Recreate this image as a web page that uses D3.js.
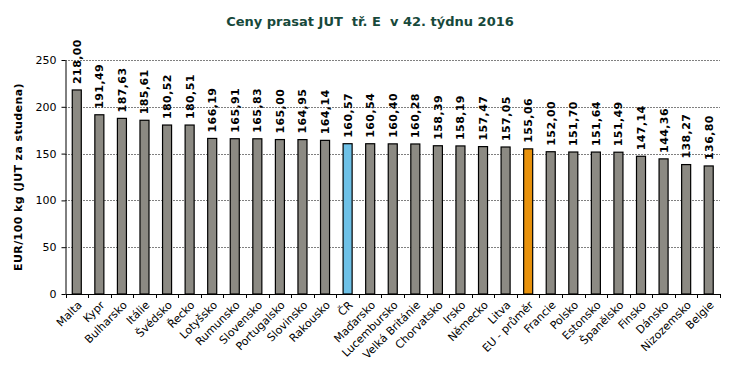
<!DOCTYPE html>
<html>
<head>
<meta charset="utf-8">
<script src="https://cdn.jsdelivr.net/npm/d3@7"></script>
<style>
  body { margin: 0; background: #fff; }
  text { font-family: "DejaVu Sans", Verdana, sans-serif; }
</style>
</head>
<body>
<div id="chart"></div>
<script>
var w = 734;
var h = 386;

var countries = ["Malta", "Kypr", "Bulharsko", "Itálie", "Švédsko", "Řecko", "Lotyšsko", "Rumunsko",
    "Slovensko", "Portugalsko", "Slovinsko", "Rakousko", "ČR", "Maďarsko", "Lucembursko",
    "Velká Británie", "Chorvatsko", "Irsko", "Německo", "Litva", "EU - průměr", "Francie",
    "Polsko", "Estonsko", "Španělsko", "Finsko", "Dánsko", "Nizozemsko", "Belgie"];
var prices = [218.00, 191.49, 187.63, 185.61, 180.52, 180.51, 166.19, 165.91,
    165.83, 165.00, 164.95, 164.14, 160.57, 160.54, 160.40,
    160.28, 158.39, 158.19, 157.47, 157.05, 155.06, 152.00,
    151.70, 151.64, 151.49, 147.14, 144.36, 138.27, 136.80];
var yTicks = [0, 50, 100, 150, 200, 250];

var plotLeft = 65.5, plotRight = 720, plotTop = 60, plotBottom = 294;

var data = countries.map(function(c, i) { return { name: c, value: prices[i] }; });

var xScale = d3.scaleBand()
    .domain(countries)
    .range([plotLeft, plotRight])
    .paddingInner(0.6)
    .paddingOuter(0.3);

var yScale = d3.scaleLinear()
    .domain([0, 250])
    .range([plotBottom, plotTop]);

var svg = d3.select("#chart")
    .append("svg")
    .attr("width", w)
    .attr("height", h);

// title
svg.append("text")
    .attr("x", 370)
    .attr("y", 26)
    .attr("text-anchor", "middle")
    .attr("font-size", "13px")
    .attr("font-weight", "bold")
    .attr("fill", "#17493b")
    .style("white-space", "pre")
    .text("Ceny prasat JUT  tř. E  v 42. týdnu 2016");

// gridlines
svg.append("g")
    .selectAll("line")
    .data(yTicks.filter(function(d) { return d > 0; }))
    .enter()
    .append("line")
    .attr("x1", plotLeft)
    .attr("x2", plotRight)
    .attr("y1", function(d) { return Math.round(yScale(d)) + 0.5; })
    .attr("y2", function(d) { return Math.round(yScale(d)) + 0.5; })
    .attr("stroke", "#000")
    .attr("stroke-width", 1)
    .attr("stroke-dasharray", "1,2");

// bars
function barColor(d) {
    if (d.name === "ČR") return "#6ec1e7";
    if (d.name === "EU - průměr") return "#e8920c";
    return "#8c8a83";
}

svg.selectAll("rect.bar")
    .data(data)
    .enter()
    .append("rect")
    .attr("class", "bar")
    .attr("x", function(d) { return xScale(d.name); })
    .attr("y", function(d) { return yScale(d.value); })
    .attr("width", xScale.bandwidth())
    .attr("height", function(d) { return plotBottom - yScale(d.value); })
    .attr("fill", barColor)
    .attr("stroke", "#000")
    .attr("stroke-width", 1.2);

// value labels
svg.selectAll("text.val")
    .data(data)
    .enter()
    .append("text")
    .attr("class", "val")
    .attr("transform", function(d) {
        return "translate(" + (xScale(d.name) + xScale.bandwidth() / 2 + 4) + "," + (yScale(d.value) - 6) + ") rotate(-90)";
    })
    .attr("font-size", "11px")
    .attr("font-weight", "bold")
    .attr("letter-spacing", "0.4px")
    .attr("fill", "#000")
    .text(function(d) { return d.value.toFixed(2).replace(".", ","); });

// y axis
var yAxis = d3.axisLeft(yScale)
    .tickValues(yTicks)
    .tickSize(4)
    .tickSizeOuter(0);

var gy = svg.append("g")
    .attr("transform", "translate(" + plotLeft + ",0)")
    .call(yAxis);
gy.selectAll("text")
    .attr("font-size", "11px")
    .attr("font-family", "DejaVu Sans, Verdana, sans-serif")
    .attr("fill", "#000")
    .attr("x", -9);
gy.selectAll("line, path").attr("stroke", "#000");

// x axis
var gx = svg.append("g")
    .attr("transform", "translate(0," + plotBottom + ")");
gx.append("line")
    .attr("x1", plotLeft)
    .attr("x2", plotRight)
    .attr("y1", 0.5)
    .attr("y2", 0.5)
    .attr("stroke", "#000");
var step = xScale.step();
gx.selectAll("line.tick")
    .data(d3.range(countries.length + 1))
    .enter()
    .append("line")
    .attr("class", "tick")
    .attr("x1", function(i) { return Math.round(plotLeft + i * step) + 0.5; })
    .attr("x2", function(i) { return Math.round(plotLeft + i * step) + 0.5; })
    .attr("y1", 0)
    .attr("y2", 4)
    .attr("stroke", "#000");

gx.selectAll("text")
    .data(countries)
    .enter()
    .append("text")
    .attr("transform", function(d) {
        return "translate(" + (xScale(d) + xScale.bandwidth() / 2 + 3) + ",9) rotate(-45)";
    })
    .attr("text-anchor", "end")
    .attr("font-size", "11px")
    .attr("fill", "#000")
    .attr("dy", "0.35em")
    .text(function(d) { return d; });

// y axis title
svg.append("text")
    .attr("transform", "translate(22," + ((plotTop + plotBottom) / 2) + ") rotate(-90)")
    .attr("text-anchor", "middle")
    .attr("font-size", "11px")
    .attr("font-weight", "bold")
    .attr("letter-spacing", "0.4px")
    .attr("fill", "#000")
    .text("EUR/100 kg (JUT za studena)");
</script>
</body>
</html>
